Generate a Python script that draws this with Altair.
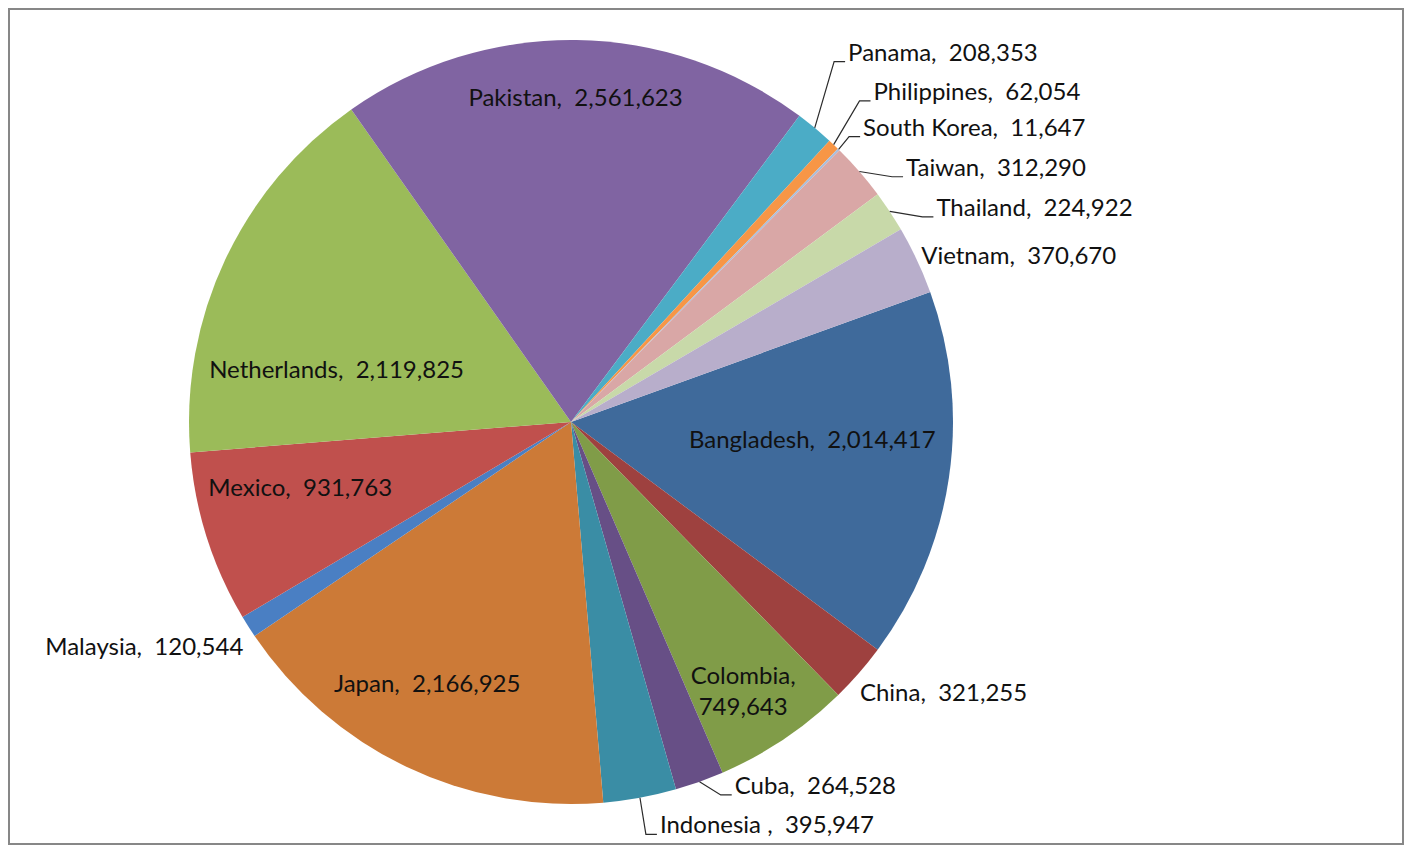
import math
import altair as alt
import pandas as pd

# ---------------- data ----------------
countries = ["Bangladesh", "China", "Colombia", "Cuba", "Indonesia ", "Japan",
             "Malaysia", "Mexico", "Netherlands", "Pakistan", "Panama",
             "Philippines", "South Korea", "Taiwan", "Thailand", "Vietnam"]
values = [2014417, 321255, 749643, 264528, 395947, 2166925,
          120544, 931763, 2119825, 2561623, 208353,
          62054, 11647, 312290, 224922, 370670]
colors = ["#3F6A9B", "#9E413F", "#809C48", "#674F86", "#3A8DA5", "#CC7A37",
          "#4A7FC3", "#C0504D", "#9BBB59", "#8064A2", "#4BACC6",
          "#F79646", "#A9BEDD", "#D9A7A6", "#C8D9A9", "#B8AECB"]

# ---------------- layout (label placement only) ----------------
W, H = 1394, 835
CX, CY = 562, 413          # pie centre inside the view
R = 382                    # pie radius
START_DEG = 70.1           # angle of first slice (clockwise from 12 o'clock)

# angle nudge from slice middle (deg), label radius (px), alignment, leader line
label_layout = {
    "Bangladesh": (-3.9, 242, "center", False),
    "China": (2.2, 397, "left", False),
    "Colombia": (-0.1, 308, "center", False),
    "Cuba": (-4.5, 400, "left", True),
    "Indonesia ": (-2.0, 414, "left", True),
    "Japan": (3.1, 300, "center", False),
    "Malaysia": (-2.2, 398, "right", False),
    "Mexico": (3.7, 279, "center", False),
    "Netherlands": (-12.8, 240, "center", False),
    "Pakistan": (0.0, 323, "center", False),
    "Panama": (-2.7, 461, "left", True),
    "Philippines": (-0.85, 447, "left", True),
    "South Korea": (0.4, 414, "left", True),
    "Taiwan": (3.9, 420, "left", True),
    "Thailand": (3.2, 423, "left", True),
    "Vietnam": (-0.1, 387, "left", False),
}

FONT = "Lato"
FONT_SIZE = 24

# ---------------- derived tables ----------------
total = float(sum(values))
slices = pd.DataFrame({"country": countries, "value": values,
                       "idx": list(range(len(countries)))})

rows, lines = [], []
cum = 0.0
for c, v in zip(countries, values):
    mid = START_DEG + 360.0 * (cum + v / 2.0) / total
    cum += v
    dth, lr, align, leader = label_layout[c]
    lt = (mid + dth) % 360.0
    if c == "Colombia":
        txt = f"{c},\n{v:,}"
    else:
        txt = f"{c},\u00a0 {v:,}"
    rows.append({"country": c, "label": txt, "ltheta": lt, "lr": lr, "align": align})
    if leader:
        a0 = math.radians(mid)
        a1 = math.radians(lt)
        x0, y0 = CX + R * math.sin(a0), CY - R * math.cos(a0)
        lx, ly = CX + lr * math.sin(a1), CY - lr * math.cos(a1)
        pts = [(x0, y0), (lx - 14, ly + 8), (lx - 3, ly + 8)]
        for k, (px, py) in enumerate(pts):
            lines.append({"country": c, "seq": k, "px": px, "py": py})

labels = pd.DataFrame(rows)
leaders = pd.DataFrame(lines)

start = math.radians(START_DEG)

pie = alt.Chart(slices).mark_arc(radius=R, stroke=None).encode(
    theta=alt.Theta("value:Q", stack=True,
                    scale=alt.Scale(range=[start, start + 2 * math.pi])),
    color=alt.Color("country:N", legend=None,
                    scale=alt.Scale(domain=countries, range=colors)),
    order=alt.Order("idx:Q"),
    x=alt.value(CX),
    y=alt.value(CY),
)

leader_lines = alt.Chart(leaders).mark_line(color="#2b2b2b", strokeWidth=1.2).encode(
    x=alt.X("px:Q", axis=None, scale=alt.Scale(domain=[0, W], range=[0, W], nice=False, zero=False)),
    y=alt.Y("py:Q", axis=None, scale=alt.Scale(domain=[0, H], range=[0, H], nice=False, zero=False)),
    detail="country:N",
    order="seq:Q",
)


def text_layer(align):
    return alt.Chart(labels).transform_filter(
        alt.datum.align == align
    ).mark_text(align=align, baseline="middle", font=FONT, fontSize=FONT_SIZE,
                color="#111111", lineBreak="\n", lineHeight=31).encode(
        theta=alt.Theta("ltheta:Q", scale=alt.Scale(domain=[0, 360], range=[0, 2 * math.pi])),
        radius=alt.Radius("lr:Q", scale=alt.Scale(type="linear", domain=[0, 1000], range=[0, 1000], zero=True)),
        text="label:N",
        x=alt.value(CX),
        y=alt.value(CY),
    )


chart = alt.layer(
    pie, leader_lines, text_layer("center"), text_layer("left"), text_layer("right")
).resolve_scale(
    theta="independent"
).properties(
    width=W, height=H,
    autosize=alt.AutoSizeParams(type="none"),
    padding={"left": 1, "top": 1, "right": 1, "bottom": 1},
    background="white",
).configure_view(
    stroke="#878787", strokeWidth=2
)

chart.save("out.html", embed_options={"renderer": "svg", "actions": False})
